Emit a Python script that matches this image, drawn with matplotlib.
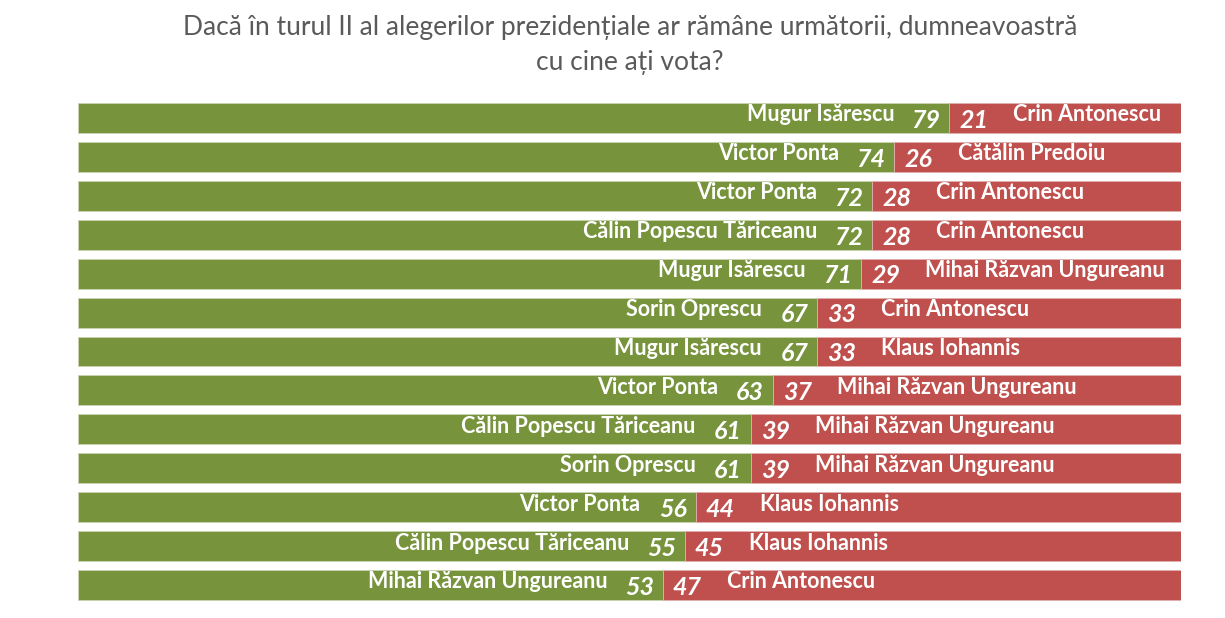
import numpy as np
import matplotlib.pyplot as plt

left_names = ['Mugur Isărescu', 'Victor Ponta', 'Victor Ponta', 'Călin Popescu Tăriceanu',
              'Mugur Isărescu', 'Sorin Oprescu', 'Mugur Isărescu', 'Victor Ponta',
              'Călin Popescu Tăriceanu', 'Sorin Oprescu', 'Victor Ponta',
              'Călin Popescu Tăriceanu', 'Mihai Răzvan Ungureanu']
right_names = ['Crin Antonescu', 'Cătălin Predoiu', 'Crin Antonescu', 'Crin Antonescu',
               'Mihai Răzvan Ungureanu', 'Crin Antonescu', 'Klaus Iohannis',
               'Mihai Răzvan Ungureanu', 'Mihai Răzvan Ungureanu', 'Mihai Răzvan Ungureanu',
               'Klaus Iohannis', 'Klaus Iohannis', 'Crin Antonescu']
left_vals = [79, 74, 72, 72, 71, 67, 67, 63, 61, 61, 56, 55, 53]
right_vals = [21, 26, 28, 28, 29, 33, 33, 37, 39, 39, 44, 45, 47]

title = 'Dacă în turul II al alegerilor prezidențiale ar rămâne următorii, dumneavoastră\ncu cine ați vota?'

green = '#77933C'
red = '#C0504D'

plt.rcParams['font.family'] = ['Lato', 'DejaVu Sans']

fig = plt.figure(figsize=(12.25, 6.18), dpi=100)
ax = fig.add_axes([78/1225, (618-604.5)/618, (1181-78)/1225, 506/618])

y = np.arange(len(left_vals))
ax.barh(y, left_vals, height=0.77, color=green, edgecolor='#c8d4b0', linewidth=0.6)
ax.barh(y, right_vals, left=left_vals, height=0.77, color=red, edgecolor='#e0b0ae', linewidth=0.6)

# 1% of the axis is ~11 px
for i in range(len(y)):
    b = left_vals[i]
    ax.text(b - 0.8, i + 0.06, str(left_vals[i]), ha='right', va='center', color='white',
            fontsize=18, fontweight='bold', fontstyle='italic')
    ax.text(b - 5.0, i - 0.08, left_names[i], ha='right', va='center', color='white',
            fontsize=15.5, fontweight='bold')
    ax.text(b + 0.9, i + 0.06, str(right_vals[i]), ha='left', va='center', color='white',
            fontsize=18, fontweight='bold', fontstyle='italic')
    ax.text(b + 5.8, i - 0.08, right_names[i], ha='left', va='center', color='white',
            fontsize=15.5, fontweight='bold')

ax.set_xlim(0, 100)
ax.set_ylim(len(y) - 0.5, -0.5)
ax.axis('off')

fig.text(630/1225, 1 - 45/618, title, ha='center', va='center', color='#5a5a5a',
         fontsize=19, linespacing=1.5)

fig.savefig('out.png', dpi=100, facecolor='white')
